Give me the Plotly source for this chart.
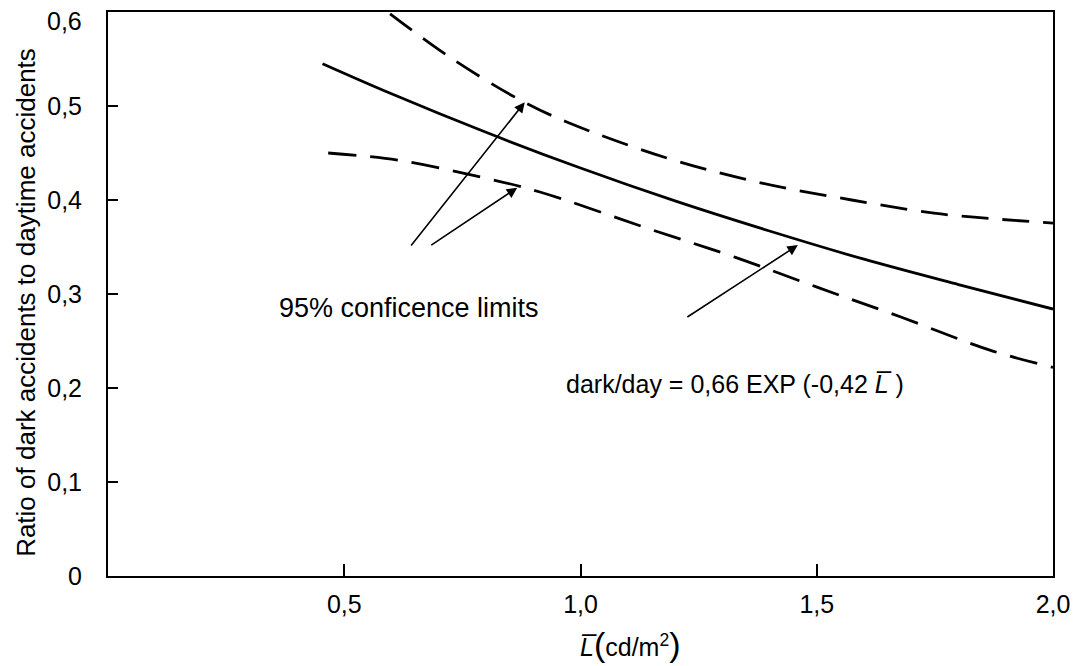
import plotly.graph_objects as go

# ---- data ----
fit_x = [0.454, 0.6, 0.8, 1.0, 1.2, 1.4, 1.6, 1.8, 2.0]
fit_y = [0.545, 0.513, 0.472, 0.434, 0.399, 0.367, 0.337, 0.310, 0.284]

upper_x = [0.597, 0.723, 0.870, 0.971, 1.187, 1.384, 1.574, 1.748, 1.874, 2.0]
upper_y = [0.598, 0.552, 0.507, 0.483, 0.444, 0.418, 0.400, 0.386, 0.380, 0.3755]

lower_x = [0.466, 0.613, 0.788, 0.914, 1.153, 1.328, 1.502, 1.678, 1.868, 2.0]
lower_y = [0.450, 0.4425, 0.4245, 0.4085, 0.368, 0.339, 0.307, 0.2755, 0.240, 0.222]

# arrows: tail -> head
arrow_tail_x = [0.639, 0.681, 1.223]
arrow_tail_y = [0.350, 0.351, 0.2745]
arrow_head_x = [0.882, 0.866, 1.460]
arrow_head_y = [0.504, 0.413, 0.352]

x_tick_vals = [0.5, 1.0, 1.5, 2.0]
x_tick_text = ["0,5", "1,0", "1,5", "2,0"]
y_tick_vals = [0, 0.1, 0.2, 0.3, 0.4, 0.5, 0.6]
y_tick_text = ["0", "0,1", "0,2", "0,3", "0,4", "0,5", ""]
y_top_label = "0,6"

FONT = "Liberation Sans, Arial, sans-serif"

fig = go.Figure()
fig.add_trace(go.Scatter(x=fit_x, y=fit_y, mode="lines", line=dict(color="black", width=2.8, shape="spline"),
                         showlegend=False, hoverinfo="skip"))
fig.add_trace(go.Scatter(x=upper_x, y=upper_y, mode="lines",
                         line=dict(color="black", width=2.8, shape="spline", dash="27px,14px"),
                         showlegend=False, hoverinfo="skip"))
fig.add_trace(go.Scatter(x=lower_x, y=lower_y, mode="lines",
                         line=dict(color="black", width=2.8, shape="spline", dash="28px,14px"),
                         showlegend=False, hoverinfo="skip"))

for tx, ty, hx, hy in zip(arrow_tail_x, arrow_tail_y, arrow_head_x, arrow_head_y):
    fig.add_annotation(x=hx, y=hy, ax=tx, ay=ty, xref="x", yref="y", axref="x", ayref="y",
                       text="", showarrow=True, arrowhead=2, arrowsize=1.3, arrowwidth=1.6,
                       arrowcolor="black", standoff=0, startstandoff=0)

fig.add_annotation(x=0.357, y=0.285, xref="x", yref="y", text="95% conficence limits",
                   showarrow=False, xanchor="left", yanchor="middle",
                   font=dict(family=FONT, size=27, color="black"))
fig.add_annotation(x=0.966, y=0.204, xref="x", yref="y",
                   text="dark/day = 0,66 EXP (-0,42 <i>L\u0305</i> )",
                   showarrow=False, xanchor="left", yanchor="middle",
                   font=dict(family=FONT, size=25, color="black"))

# top y tick label (sits just below the frame in the reference)
fig.add_annotation(x=0, y=0.6, xref="paper", yref="y", text=y_top_label,
                   showarrow=False, xanchor="right", yanchor="middle", xshift=-24, yshift=-9,
                   font=dict(family=FONT, size=25, color="black"))

# axis titles
fig.add_annotation(x=1.105, y=-0.1206, xref="x", yref="paper",
                   text="<i>L\u0305</i><span style='font-size:34px'>(</span>cd/m<sup>2</sup><span style='font-size:34px'>)</span>",
                   showarrow=False, xanchor="center", yanchor="middle",
                   font=dict(family=FONT, size=25, color="black"))
fig.add_annotation(x=-0.0868, y=0.486, xref="paper", yref="paper",
                   text="Ratio of dark accidents to daytime accidents", textangle=-90,
                   showarrow=False, xanchor="center", yanchor="middle",
                   font=dict(family=FONT, size=26, color="black"))

fig.update_xaxes(range=[0, 2.0], tickvals=x_tick_vals, ticktext=x_tick_text,
                 ticks="inside", ticklen=12, tickwidth=2, tickcolor="black",
                 showline=True, linewidth=2, linecolor="black", mirror=True,
                 showgrid=False, zeroline=False, ticklabelstandoff=5, automargin=False,
                 tickfont=dict(family=FONT, size=25, color="black"))
fig.update_yaxes(range=[0, 0.6], tickvals=y_tick_vals, ticktext=y_tick_text,
                 ticks="inside", ticklen=10, tickwidth=2, tickcolor="black",
                 showline=True, linewidth=2, linecolor="black", mirror=True,
                 showgrid=False, zeroline=False, ticklabelstandoff=19, automargin=False,
                 tickfont=dict(family=FONT, size=25, color="black"))

fig.update_layout(width=1075, height=666, margin=dict(l=108, r=22, t=12, b=90),
                  plot_bgcolor="white", paper_bgcolor="white",
                  font=dict(family=FONT, color="black"))

fig.write_html("out.html", config={"displayModeBar": False},
               post_script="document.body.style.margin='0';document.body.style.overflow='hidden';")
